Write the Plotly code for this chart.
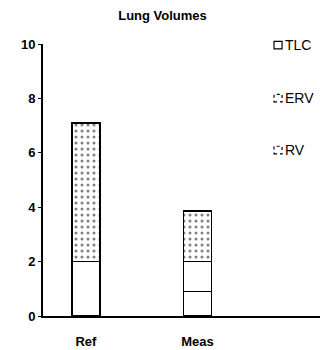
import plotly.graph_objects as go

# Lung volume data (litres)
categories = ["Ref", "Meas"]
series_names = ["TLC", "ERV", "RV"]
tlc = [2.0, 0.9]
erv = [0.0, 1.1]
rv = [5.1, 1.85]
y_ticks = [0, 2, 4, 6, 8, 10]

x_pos = list(range(len(categories)))
values = [tlc, erv, rv]
patterns = ["", "", "."]

font_family = "Liberation Sans, Arial, sans-serif"

fig = go.Figure()
for name, vals, pat in zip(series_names, values, patterns):
    fig.add_trace(go.Bar(
        x=x_pos, y=vals, name=name, width=0.25,
        showlegend=False,
        marker=dict(
            color="white",
            line=dict(color="black", width=1.6),
            pattern=dict(shape=pat, fgcolor="black", bgcolor="white",
                         size=6, solidity=0.2) if pat else None,
        ),
    ))

# Hand-placed key on the right: small swatch followed by the series name
key_rows = [0.996, 0.801, 0.610]
key_dash = ["solid", "dot", "dot"]
for name, ky, dash in zip(series_names, key_rows, key_dash):
    fig.add_shape(type="rect", xref="paper", yref="paper",
                  x0=0.834, x1=0.863, y0=ky - 0.014, y1=ky + 0.014,
                  line=dict(color="black", width=1.2, dash=dash),
                  fillcolor="white")
    fig.add_annotation(text=name, xref="paper", yref="paper",
                       x=0.866, y=ky, xanchor="left", yanchor="middle",
                       showarrow=False,
                       font=dict(size=14, family=font_family, color="black"))

fig.update_layout(
    barmode="stack",
    width=327, height=350,
    margin=dict(l=43, r=7, t=44, b=34),
    paper_bgcolor="white", plot_bgcolor="white",
    font=dict(family=font_family, size=13, color="black"),
    title=dict(text="<b>Lung Volumes</b>", x=0.497, xanchor="center",
               y=1 - 15 / 350, yanchor="middle",
               font=dict(size=13, family=font_family)),
    xaxis=dict(
        range=[-0.384, 2.098], tickmode="array", tickvals=x_pos,
        ticktext=[f"<b>{c}</b>" for c in categories],
        showline=True, linecolor="black", linewidth=1.8,
        showgrid=False, zeroline=False, ticks="",
        ticklabelstandoff=12, tickfont=dict(size=13), automargin=False,
    ),
    yaxis=dict(
        range=[0, 10], tickmode="array", tickvals=y_ticks,
        ticktext=[f"<b>{t}</b>" for t in y_ticks],
        showline=True, linecolor="black", linewidth=1.8,
        showgrid=False, zeroline=False, ticks="outside", ticklen=3,
        tickcolor="black", tickfont=dict(size=13), automargin=False,
    ),
)

fig.write_html("out.html")
